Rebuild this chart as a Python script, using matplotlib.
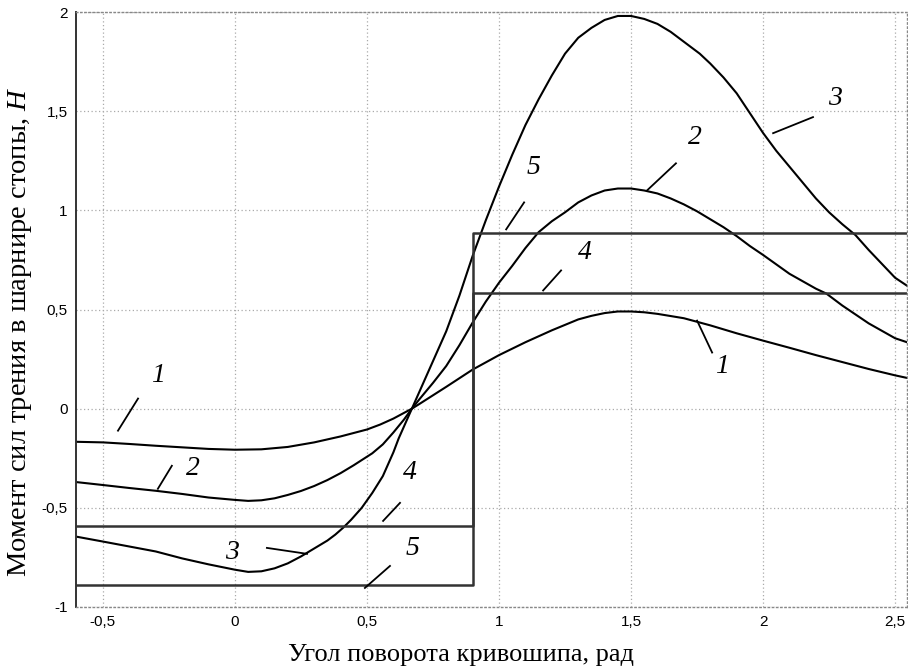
import matplotlib
matplotlib.use("Agg")
import matplotlib.pyplot as plt
from matplotlib.ticker import FuncFormatter, MultipleLocator

plt.rcParams['mathtext.fontset'] = 'custom'
plt.rcParams['mathtext.rm'] = 'Liberation Serif'
plt.rcParams['mathtext.it'] = 'Liberation Serif:italic'

# curve 1
x1 = [-0.602, -0.5, -0.4, -0.3, -0.2, -0.1, 0.0, 0.1, 0.2, 0.3, 0.4, 0.5, 0.55, 0.6,
      0.67, 0.7, 0.8, 0.9, 1.0, 1.1, 1.2, 1.3, 1.35, 1.4, 1.45, 1.5, 1.55, 1.6, 1.7,
      1.8, 1.9, 2.0, 2.1, 2.2, 2.3, 2.4, 2.5, 2.545]
y1 = [-0.167, -0.17, -0.178, -0.187, -0.195, -0.203, -0.207, -0.205, -0.193, -0.17,
      -0.14, -0.105, -0.08, -0.05, 0.0, 0.025, 0.11, 0.197, 0.27, 0.335, 0.395, 0.45,
      0.468, 0.482, 0.49, 0.49, 0.486, 0.478, 0.456, 0.42, 0.38, 0.343, 0.307, 0.27,
      0.235, 0.2, 0.168, 0.155]

# curve 2
x2 = [-0.602, -0.5, -0.4, -0.3, -0.2, -0.1, 0.0, 0.05, 0.1, 0.15, 0.2, 0.25, 0.3,
      0.35, 0.4, 0.45, 0.485, 0.52, 0.56, 0.6, 0.64, 0.67, 0.7, 0.75, 0.8, 0.85, 0.9,
      0.95, 1.0, 1.05, 1.1, 1.15, 1.2, 1.25, 1.3, 1.35, 1.4, 1.45, 1.5, 1.55, 1.6,
      1.65, 1.7, 1.75, 1.8, 1.85, 1.9, 1.95, 2.0, 2.1, 2.2, 2.24, 2.3, 2.4, 2.5, 2.545]
y2 = [-0.37, -0.385, -0.40, -0.414, -0.43, -0.448, -0.46, -0.465, -0.462, -0.452,
      -0.435, -0.415, -0.39, -0.36, -0.325, -0.285, -0.255, -0.225, -0.18, -0.12,
      -0.055, 0.0, 0.05, 0.13, 0.215, 0.32, 0.434, 0.54, 0.635, 0.72, 0.81, 0.89,
      0.945, 0.99, 1.04, 1.075, 1.1, 1.11, 1.11, 1.1, 1.085, 1.06, 1.03, 0.995, 0.955,
      0.915, 0.87, 0.82, 0.775, 0.68, 0.605, 0.58, 0.52, 0.43, 0.355, 0.335]

# curve 3
x3 = [-0.602, -0.5, -0.4, -0.3, -0.2, -0.1, 0.0, 0.05, 0.1, 0.15, 0.2, 0.25, 0.3,
      0.35, 0.38, 0.41, 0.44, 0.48, 0.52, 0.56, 0.6, 0.62, 0.64, 0.67, 0.7, 0.75, 0.8,
      0.85, 0.9, 0.95, 1.0, 1.05, 1.1, 1.15, 1.2, 1.25, 1.3, 1.35, 1.4, 1.45, 1.5,
      1.55, 1.6, 1.65, 1.7, 1.76, 1.8, 1.85, 1.9, 1.95, 2.0, 2.05, 2.1, 2.15, 2.2,
      2.25, 2.3, 2.35, 2.4, 2.45, 2.5, 2.545]
y3 = [-0.645, -0.67, -0.695, -0.72, -0.755, -0.785, -0.812, -0.823, -0.82, -0.805,
      -0.78, -0.745, -0.705, -0.665, -0.635, -0.6, -0.56, -0.5, -0.425, -0.34, -0.22,
      -0.15, -0.09, 0.0, 0.09, 0.24, 0.39, 0.57, 0.77, 0.95, 1.12, 1.28, 1.43, 1.56,
      1.68, 1.79, 1.87, 1.92, 1.96, 1.98, 1.98, 1.965, 1.94, 1.9, 1.85, 1.79, 1.74,
      1.67, 1.59, 1.49, 1.39, 1.3, 1.22, 1.14, 1.06, 0.99, 0.93, 0.875, 0.8, 0.73,
      0.66, 0.62]

# step lines 4 and 5
x_step = [-0.602, 0.9, 2.545]
y4 = [-0.59, 0.585, 0.585]
y5 = [-0.887, 0.885, 0.885]

# curve labels: text, label position, leader start, leader end
lab_text = ['1', '2', '3', '4', '5', '5', '4', '2', '3', '1']
lab_xy = [(-0.292, 0.167), (-0.159, -0.303), (-0.011, -0.727), (0.663, -0.323),
          (0.674, -0.707), (1.129, 1.217), (1.326, 0.788), (1.742, 1.369),
          (2.273, 1.566), (1.845, 0.212)]
lead_a = [(-0.443, -0.111), (-0.292, -0.404), (0.121, -0.702), (0.561, -0.566),
          (0.492, -0.904), (1.027, 0.904), (1.167, 0.596), (1.561, 1.101),
          (2.038, 1.389), (1.75, 0.444)]
lead_b = [(-0.367, 0.051), (-0.239, -0.288), (0.273, -0.732), (0.625, -0.475),
          (0.587, -0.793), (1.095, 1.04), (1.235, 0.697), (1.67, 1.237),
          (2.189, 1.47), (1.807, 0.283)]

fig = plt.figure(figsize=(9.08, 6.72), dpi=100)
ax = fig.add_axes([76 / 908, 65 / 672, 831 / 908, 595 / 672])

ax.plot(x1, y1, color='black', lw=1.5)
ax.plot(x2, y2, color='black', lw=1.5)
ax.plot(x3, y3, color='black', lw=1.5)
ax.plot(x_step, y4, drawstyle='steps-post', color='#333333', lw=1.8)
ax.plot(x_step, y5, drawstyle='steps-post', color='#333333', lw=1.8)

for t, p, a, b in zip(lab_text, lab_xy, lead_a, lead_b):
    ax.plot([a[0], b[0]], [a[1], b[1]], color='black', lw=1.3)
    ax.text(p[0], p[1], t, fontsize=20, family='Liberation Serif', style='italic',
            ha='center', va='center')

ax.set_xlim(-0.602, 2.545)
ax.set_ylim(-1, 2)
ax.xaxis.set_major_locator(MultipleLocator(0.5))
ax.yaxis.set_major_locator(MultipleLocator(0.5))
fmt = FuncFormatter(lambda v, pos: f"{v:g}".replace('.', ',').replace('\u2212', '-'))
ax.xaxis.set_major_formatter(fmt)
ax.yaxis.set_major_formatter(fmt)
ax.grid(True, linestyle=(0, (1, 2)), color='#aaaaaa', lw=0.9)
ax.tick_params(length=0, labelsize=11, pad=6)
for lbl in ax.get_xticklabels() + ax.get_yticklabels():
    lbl.set_family('Liberation Sans')

ax.spines['left'].set_color('#333333')
ax.spines['left'].set_linewidth(1.4)
for s in ['top', 'right', 'bottom']:
    ax.spines[s].set_linestyle((0, (1, 2)))
    ax.spines[s].set_color('#888888')
    ax.spines[s].set_linewidth(1.0)

ax.set_xlabel('Угол поворота кривошипа, рад', fontsize=19, family='Liberation Serif')
ax.xaxis.set_label_coords(0.463, -0.062)
ax.set_ylabel('Момент сил трения в шарнире стопы, $\\mathit{Н}$', fontsize=20.5,
              family='Liberation Serif')
ax.yaxis.set_label_coords(-0.05, 0.462)

fig.savefig('out.png', dpi=100)
